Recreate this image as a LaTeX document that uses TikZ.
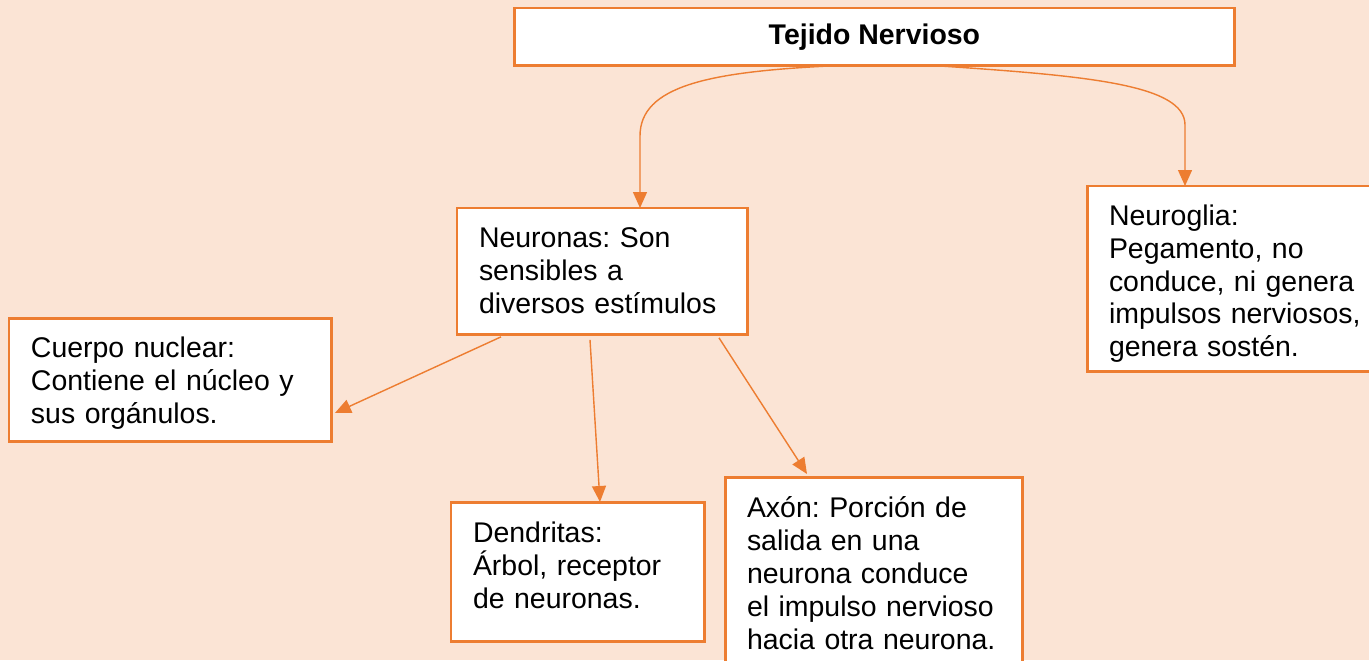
\documentclass[tikz,border=0pt]{standalone}
\usepackage{fontspec}
\setmainfont{Liberation Sans}
\usepackage{tikz}
\usetikzlibrary{arrows.meta, positioning, calc}
\definecolor{peach}{HTML}{FBE4D5}
\definecolor{accorange}{HTML}{ED7D31}
\frenchspacing

\begin{document}
\begin{tikzpicture}[x=0.02cm, y=-0.02cm,
    title/.style={rectangle, draw=accorange, line width=1.7pt, fill=white, outer sep=0pt,
                  anchor=north west, minimum width=14.42cm, minimum height=1.16cm,
                  font=\fontsize{16.2pt}{18.7pt}\selectfont\bfseries},
    concept/.style={rectangle, draw=accorange, line width=1.7pt, fill=white, outer sep=0pt,
                    anchor=north west, align=left, inner xsep=0.44cm, inner ysep=0.38cm,
                    text height=11.6pt, font=\fontsize{16.2pt}{18.7pt}\selectfont},
    link/.style={draw=accorange, line width=0.8pt,
                 -{Triangle[length=0.32cm, width=0.28cm]}}]

%% Page and background
\useasboundingbox (0,0) rectangle (1369,660);
\fill[peach] (0,0) rectangle (1369,660);
\clip (0,0) rectangle (1369,660);

%% Concept boxes
\node[title] (tejido) at (514,8) {Tejido Nervioso};
\node[concept, text width=4.94cm, text depth=1.37cm] (neuronas) at (457,208)
    {Neuronas: Son\\sensibles a\\diversos estímulos};
\node[concept, text width=5.38cm, text depth=2.55cm] (neuroglia) at (1087,186)
    {Neuroglia:\\Pegamento, no\\conduce, ni genera\\impulsos nerviosos,\\genera sostén.};
\node[concept, text width=5.58cm, text depth=1.31cm] (cuerpo) at (9,318)
    {Cuerpo nuclear:\\Contiene el núcleo y\\sus orgánulos.};
\node[concept, text width=4.20cm, text depth=1.57cm, inner ysep=0.41cm] (dendritas) at (451,502)
    {Dendritas:\\Árbol, receptor\\de neuronas.};
\node[concept, text width=5.08cm, text depth=3.05cm, inner ysep=0.41cm] (axon) at (725,477)
    {Axón: Porción de\\salida en una\\neurona conduce\\el impulso nervioso\\hacia otra neurona.};

%% Tejido -> Neuronas / Neuroglia
\draw[link] ($(tejido.south west)+(315,0)$) .. controls +(-120,6) and +(0,-50)
    .. ($(neuronas.north west)+(183,-72)$) -- ($(neuronas.north west)+(183,0)$);
\draw[link] ($(tejido.south west)+(426,0)$) .. controls +(150,10) and +(0,-40)
    .. ($(neuroglia.north west)+(98,-61)$) -- ($(neuroglia.north west)+(98,0)$);

%% Neuronas -> parts
\draw[link] ($(neuronas.south west)+(44,2)$) -- ($(cuerpo.north east)+(3,95)$);
\draw[link] ($(neuronas.south west)+(133,5)$) -- ($(dendritas.north west)+(149,0)$);
\draw[link] ($(neuronas.south west)+(262,3)$) -- ($(axon.north west)+(82,-3)$);

\end{tikzpicture}
\end{document}
